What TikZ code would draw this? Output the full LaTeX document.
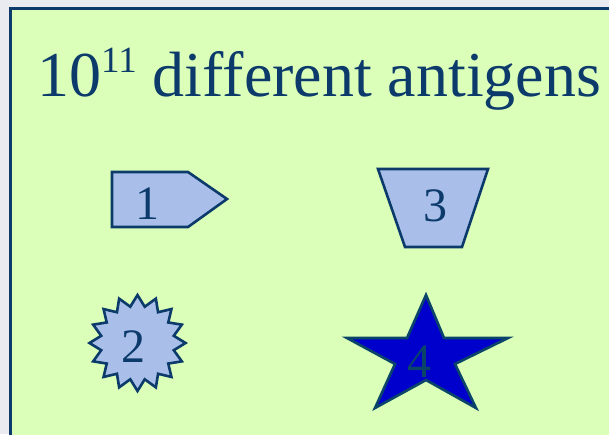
\documentclass[tikz,border=0pt]{standalone}
\usepackage{fontspec}
\setmainfont{Liberation Serif}
\definecolor{bgout}{HTML}{E9EBF1}
\definecolor{boxgreen}{HTML}{DBFFB9}
\definecolor{navy}{HTML}{0B3A6B}
\definecolor{peri}{HTML}{A9BFEA}
\definecolor{starblue}{HTML}{0000CC}
\definecolor{starline}{HTML}{0A4468}
\begin{document}
\begin{tikzpicture}[x=1pt,y=-1pt,
  shapebox/.style={draw=navy,fill=peri,line width=2.6pt,line join=miter},
  lbl/.style={text=navy,inner sep=0pt,font=\fontsize{48}{48}\selectfont}]
\useasboundingbox (0,0) rectangle (609,434);
\clip (0,0) rectangle (609,434);
\fill[bgout] (0,0) rectangle (609,434);
\draw[draw=navy,fill=boxgreen,line width=3pt] (10.5,8.5) rectangle (640,460);
% title
\node[anchor=base west,inner sep=0pt,text=navy] (title) at (37,96)
  {\fontsize{64}{64}\selectfont 10\raisebox{24pt}{\fontsize{37}{37}\selectfont 11} different antigens};
% shape 1
\draw[shapebox] (112,172) -- (188,172) -- (227,199) -- (188,227) -- (112,227) -- cycle;
\node[lbl] (l1) at (147,204) {1};
% shape 3
\draw[shapebox] (378,169) -- (488,169) -- (462,247) -- (405,247) -- cycle;
\node[lbl] (l3) at (435,206) {3};
% shape 2 starburst
\draw[shapebox] (137.5,343) +(90:48)
  \foreach \i in {0,...,15} { -- +({90-\i*22.5}:48) -- +({90-\i*22.5-11.25}:37) } -- cycle;
\node[lbl] (l2) at (133,347) {2};
% shape 4 star
\draw[draw=starline,fill=starblue,line width=2.6pt,line join=miter]
  (426,295) -- (444,338) -- (508,338) -- (455,364) -- (476,408) -- (426,380)
  -- (375,408) -- (395,364) -- (347,338) -- (407,338) -- cycle;
\node[lbl,text=starline] (l4) at (419,362) {4};
\end{tikzpicture}
\end{document}
